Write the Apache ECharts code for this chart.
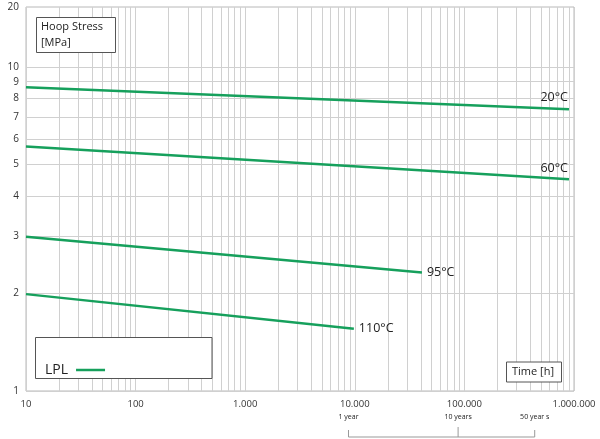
<!DOCTYPE html>
<html><head><meta charset="utf-8">
<script src="https://cdn.jsdelivr.net/npm/echarts@6/dist/echarts.min.js"></script>
<style>html,body{margin:0;padding:0;background:#fff}#c{width:600px;height:439px}</style>
</head><body><div id="c"></div>
<script>
// ---- data ----
const seriesNames = ['20°C', '60°C', '95°C', '110°C'];
const timeStart   = [10, 10, 10, 10];
const timeEnd     = [900000, 900000, 41000, 9800];
const stressStart = [8.65, 5.68, 2.99, 1.99];
const stressEnd   = [7.40, 4.50, 2.32, 1.557];

const xLabelValues = [10, 100, 1000, 10000, 100000, 1000000];
const xGridValues = [10,20,30,40,50,60,70,80,90,
  100,200,300,400,500,600,700,800,900,
  1000,2000,3000,4000,5000,6000,7000,8000,9000,
  10000,20000,30000,40000,50000,60000,70000,80000,90000,
  100000,200000,300000,400000,500000,600000,700000,800000,900000,1000000];
const yLabelValues = [1, 2, 3, 4, 5, 6, 7, 8, 9, 10];
const yGridValues = [1, 2, 3, 4, 5, 6, 7, 8, 9, 10];
const yTopLabel = '20';
const Y_MAX = 15.3;

const yearHours  = [8760, 87600, 438000];
const yearLabels = ['1 year', '10 years', '50 year s'];

const FONT = "'Open Sans', 'DejaVu Sans', sans-serif";
const GREEN = '#16a05c';

function fmtThousands(v) {
  return String(Math.round(v)).replace(/\B(?=(\d{3})+(?!\d))/g, '.');
}

const labelLayout = [
  {position: 'left', offset: [4, -12]},
  {position: 'left', offset: [4, -11]},
  {position: 'right', offset: [0, 0]},
  {position: 'right', offset: [0, 0]}
];

const series = seriesNames.map((n, i) => ({
  type: 'line',
  name: 'LPL',
  symbol: 'none',
  data: [[timeStart[i], stressStart[i]], [timeEnd[i], stressEnd[i]]],
  lineStyle: {color: GREEN, width: 2.5},
  itemStyle: {color: GREEN},
  z: 3,
  markPoint: {
    symbol: 'circle', symbolSize: 0, silent: true,
    data: [{
      coord: [timeEnd[i], stressEnd[i]],
      label: {
        show: true, formatter: n,
        position: labelLayout[i].position, offset: labelLayout[i].offset,
        distance: 5,
        color: '#222', fontSize: 12.5, fontFamily: FONT
      }
    }]
  }
}));

const chart = echarts.init(document.getElementById('c'), null, {renderer: 'canvas'});
chart.setOption({
  animation: false,
  backgroundColor: '#fff',
  grid: {left: 26, right: 26, top: 7, bottom: 48, show: true, borderColor: '#b8b8b8', borderWidth: 1,
         containLabel: false, outerBoundsMode: 'none'},
  legend: {
    show: true, left: 40, top: 358, selectedMode: false,
    data: [{name: 'LPL', icon: 'rect'}],
    align: 'right', itemWidth: 29, itemHeight: 2.5,
    textStyle: {fontSize: 14, color: '#222', fontFamily: FONT, padding: [0, 3, 0, 0]},
    z: 5
  },
  xAxis: {
    type: 'log', logBase: 10, min: 10, max: 1000000,
    axisLine: {show: false},
    axisTick: {show: false, customValues: xGridValues},
    splitLine: {show: true, lineStyle: {color: '#d0d0d0', width: 1}},
    axisLabel: {customValues: xLabelValues, formatter: fmtThousands, color: '#333', fontSize: 9.5,
                fontFamily: FONT, margin: 8}
  },
  yAxis: {
    type: 'log', logBase: 10, min: 1, max: Y_MAX,
    axisLine: {show: false},
    axisTick: {show: false, customValues: yGridValues},
    splitLine: {show: true, lineStyle: {color: '#d0d0d0', width: 1}},
    axisLabel: {customValues: yLabelValues.concat([Y_MAX]),
                formatter: v => (v > 11 ? yTopLabel : String(Math.round(v))),
                color: '#333', fontSize: 10, fontFamily: FONT, margin: 7}
  },
  series: series
});

// boxes and bracket, positioned via the chart's own x scale
const px = yearHours.map(h => chart.convertToPixel({xAxisIndex: 0}, h));
const g = [
  {type: 'rect', shape: {x: 36.5, y: 17.5, width: 79, height: 35}, style: {fill: '#fff', stroke: '#555', lineWidth: 1}, z: 10},
  {type: 'text', x: 41, y: 27, style: {text: 'Hoop Stress', font: '11px ' + FONT, fill: '#222', verticalAlign: 'middle'}, z: 11},
  {type: 'text', x: 41, y: 43, style: {text: '[MPa]', font: '11px ' + FONT, fill: '#222', verticalAlign: 'middle'}, z: 11},
  {type: 'rect', shape: {x: 506.5, y: 362, width: 55, height: 20}, style: {fill: '#fff', stroke: '#555', lineWidth: 1}, z: 10},
  {type: 'text', x: 533, y: 372, style: {text: 'Time [h]', font: '11px ' + FONT, fill: '#222', align: 'center', verticalAlign: 'middle'}, z: 11},
  {type: 'rect', shape: {x: 35.5, y: 337.5, width: 176.5, height: 41}, style: {fill: '#fff', stroke: '#555', lineWidth: 1}, z: 4},
  {type: 'line', shape: {x1: px[0], y1: 437, x2: px[2], y2: 437}, style: {stroke: '#999', lineWidth: 1}, z: 10},
  {type: 'line', shape: {x1: px[0], y1: 430, x2: px[0], y2: 437}, style: {stroke: '#999', lineWidth: 1}, z: 10},
  {type: 'line', shape: {x1: px[1], y1: 427, x2: px[1], y2: 437}, style: {stroke: '#999', lineWidth: 1}, z: 10},
  {type: 'line', shape: {x1: px[2], y1: 430, x2: px[2], y2: 437}, style: {stroke: '#999', lineWidth: 1}, z: 10}
];
yearLabels.forEach((t, i) => {
  g.push({type: 'text', x: px[i], y: 417, style: {text: t, font: '7px ' + FONT, fill: '#222', align: 'center', verticalAlign: 'middle'}, z: 11});
});
chart.setOption({graphic: g});
</script></body></html>
